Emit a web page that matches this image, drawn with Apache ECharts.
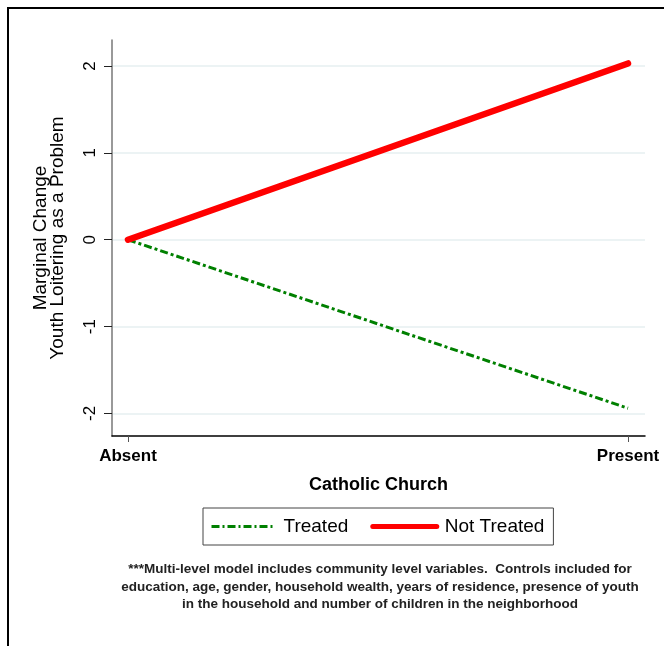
<!DOCTYPE html>
<html>
<head>
<meta charset="utf-8">
<script src="https://cdn.jsdelivr.net/npm/echarts@6/dist/echarts.min.js"></script>
<style>html,body{margin:0;padding:0;background:#fff;}#c{width:664px;height:646px;}</style>
</head>
<body>
<div id="c"></div>
<script>
var categories = ['Absent', 'Present'];
var categoryPos = [0, 1];
var treated = [0, -1.94];
var notTreated = [0, 2.03];
var yTicks = [-2, -1, 0, 1, 2];
var seriesNames = ['Treated', 'Not Treated'];
var noteLines = [
  '***Multi-level model includes community level variables.  Controls included for',
  'education, age, gender, household wealth, years of residence, presence of youth',
  'in the household and number of children in the neighborhood'
];

var FONT = "'Liberation Sans', Arial, sans-serif";
var GREEN = '#008000';
var RED = '#ff0000';

function pairs(vals) { return categoryPos.map(function (x, i) { return [x, vals[i]]; }); }

var chart = echarts.init(document.getElementById('c'), null, { renderer: 'canvas' });
chart.setOption({
  animation: false,
  backgroundColor: '#fff',
  grid: { left: 112, right: 19, top: 40, bottom: 210, containLabel: false },
  xAxis: {
    type: 'value', min: -0.032, max: 1.034,
    name: 'Catholic Church', nameLocation: 'middle', nameGap: 40,
    nameTextStyle: { fontFamily: FONT, fontSize: 18, fontWeight: 'bold', color: '#000' },
    axisLine: { show: true, onZero: false, lineStyle: { color: '#000', width: 1.5 } },
    axisTick: { show: true, length: 6, lineStyle: { color: '#555' }, customValues: categoryPos },
    axisLabel: { customValues: categoryPos, margin: 12, fontFamily: FONT, fontSize: 17, fontWeight: 'bold', color: '#000',
      formatter: function (v) { var i = categoryPos.indexOf(v); return i >= 0 ? categories[i] : ''; } },
    splitLine: { show: false }
  },
  yAxis: {
    type: 'value', min: -2.26, max: 2.3,
    name: 'Marginal Change\nYouth Loitering as a Problem', nameLocation: 'middle', nameGap: 46, nameRotate: 90,
    nameTextStyle: { fontFamily: FONT, fontSize: 19, color: '#000', lineHeight: 17 },
    axisLine: { show: true, onZero: false, lineStyle: { color: '#777', width: 1.5 } },
    axisTick: { show: true, length: 8, lineStyle: { color: '#222' }, customValues: yTicks },
    axisLabel: { customValues: yTicks, rotate: 90, margin: 13, fontFamily: FONT, fontSize: 17, color: '#000' },
    splitLine: { show: true, lineStyle: { color: '#e6eff1', width: 1.5 } }
  },
  legend: {
    left: 203, top: 508, orient: 'horizontal',
    padding: [9, 9, 9, 7],
    borderColor: '#444', borderWidth: 1, backgroundColor: '#fff',
    itemWidth: 64, itemHeight: 14, itemGap: 22,
    itemStyle: { opacity: 0 },
    textStyle: { fontFamily: FONT, fontSize: 19, color: '#000', padding: [0, 0, 0, 3] },
    data: [
      { name: seriesNames[0], lineStyle: { width: 3, color: GREEN, type: [8, 3, 2, 3] }, itemStyle: { opacity: 0 } },
      { name: seriesNames[1], lineStyle: { width: 5, color: RED, cap: 'round' }, itemStyle: { opacity: 0 } }
    ]
  },
  series: [
    { name: seriesNames[0], type: 'line', data: pairs(treated), symbol: 'none', showSymbol: false,
      lineStyle: { color: GREEN, width: 3, type: [8, 3, 3, 3] }, itemStyle: { color: GREEN }, z: 2 },
    { name: seriesNames[1], type: 'line', data: pairs(notTreated), symbol: 'none', showSymbol: false,
      lineStyle: { color: RED, width: 6.5, cap: 'round' }, itemStyle: { color: RED }, z: 3 }
  ],
  graphic: [
    { type: 'rect', shape: { x: 8, y: 8, width: 800, height: 800 }, style: { fill: 'none', stroke: '#000', lineWidth: 2 }, silent: true, z: 100 },
    { type: 'text', x: 380, y: 561, style: { text: noteLines.join('\n'), align: 'center', verticalAlign: 'top',
      font: "bold 13.5px " + FONT, lineHeight: 17.5, fill: '#222' } }
  ]
});
</script>
</body>
</html>
